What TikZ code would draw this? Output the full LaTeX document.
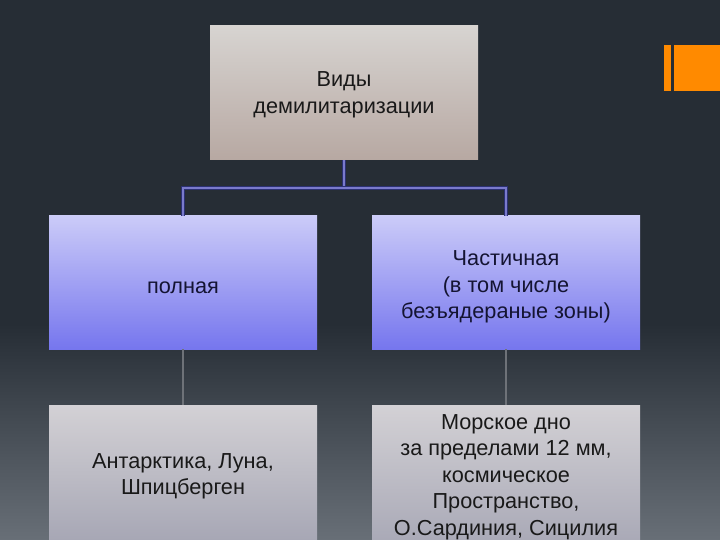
\documentclass[tikz,border=0pt]{standalone}
\usepackage{fontspec}
\setmainfont{Liberation Sans}
\definecolor{bgTop}{HTML}{262D35}
\definecolor{bgBot}{HTML}{686F77}
\pgfdeclareverticalshading{bgshade}{100bp}{color(0bp)=(bgBot); color(25bp)=(bgBot); color(45bp)=(bgTop); color(100bp)=(bgTop)}
\begin{document}
\begin{tikzpicture}[x=1pt,y=-1pt,
  boxtext/.style={align=center,font=\fontsize{21.7}{26.5}\selectfont,inner sep=0pt,minimum width=268pt},
  topbox/.style={boxtext,minimum height=134pt,top color=topA,bottom color=topB,text=black!90},
  bluebox/.style={boxtext,minimum height=133pt,top color=blueA,bottom color=blueB,text=navytext},
  greybox/.style={boxtext,minimum height=135pt,top color=greyA,bottom color=greyB,text=black!90},
  blueline/.style={draw=lineOut,double=lineIn,double distance=1.2pt,line width=1pt},
  greyline/.style={draw=lineGrey,line width=2pt}]
\definecolor{topA}{HTML}{D7D4D1}
\definecolor{topB}{HTML}{B7A8A2}
\definecolor{blueA}{HTML}{CBCBF8}
\definecolor{blueB}{HTML}{7676EE}
\definecolor{greyA}{HTML}{D3D1D5}
\definecolor{greyB}{HTML}{A7A7B5}
\definecolor{navytext}{HTML}{141432}
\definecolor{lineOut}{HTML}{2C3172}
\definecolor{lineIn}{HTML}{7A7ACC}
\definecolor{lineGrey}{HTML}{6E7278}
\definecolor{orangeC}{HTML}{FF8A00}
\useasboundingbox (0,0) rectangle (720,540);
\shade[shading=bgshade] (0,0) rectangle (720,540);
% orange decoration
\fill[orangeC] (664,45) rectangle (671,91);
\fill[orangeC] (674,45) rectangle (720,91);
% nodes
\coordinate (jn) at (344,188);
\node[topbox] (top) at (344,93) {\rule{0pt}{19pt}Виды\\демилитаризации};
\node[bluebox] (full) at (183,282.5) {\rule{0pt}{22pt}полная};
\node[bluebox] (part) at (506,282.5) {\rule{0pt}{24pt}Частичная\\(в том числе\\безъядераные зоны)};
\node[greybox] (fullb) at (183,472.5) {\rule{0pt}{22pt}Антарктика, Луна,\\Шпицберген};
\node[greybox,minimum height=144pt] (partb) at (506,477) {Морское дно\\за пределами 12 мм,\\космическое\\Пространство,\\О.Сардиния, Сицилия};
% connectors
\draw[blueline] (top.south) -- (jn);
\draw[blueline] (jn) -| (full.north);
\draw[blueline] (jn) -| (part.north);
\draw[greyline] (full.south) -- (fullb.north);
\draw[greyline] (part.south) -- (partb.north);
\end{tikzpicture}
\end{document}
